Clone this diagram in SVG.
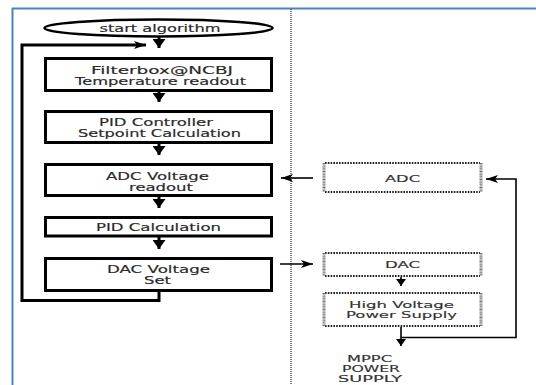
<svg xmlns="http://www.w3.org/2000/svg" width="536" height="385" viewBox="0 0 536 385">
<style>
.frame{stroke:#4f81bd;stroke-width:2;fill:none}
.sep{stroke:#555;stroke-width:1.5;stroke-dasharray:1 1;fill:none}
.box{fill:#fff;stroke:#000;stroke-width:3}
.term{fill:#fff;stroke:#000;stroke-width:2.5}
.flow{stroke:#000;stroke-width:3;fill:none}
.thin{stroke:#000;stroke-width:1.6;fill:none}
.dh{stroke:#222;stroke-width:2;stroke-dasharray:1.6 1.2;fill:none}
.dv{stroke:#777;stroke-width:3;stroke-dasharray:1 0.6;fill:none}
.t{font-family:"DejaVu Sans",Verdana,sans-serif;font-size:10px;fill:#2a2a2a;stroke:#2a2a2a;stroke-width:0.15;text-anchor:middle}
.tr{font-family:"DejaVu Sans",Verdana,sans-serif;font-size:9.5px;fill:#333;stroke:#333;stroke-width:0.15;text-anchor:middle}
</style>
<defs>
<marker id="hb" markerWidth="13" markerHeight="13" refX="9" refY="6.5" orient="auto" markerUnits="userSpaceOnUse">
<path d="M0,0 L9,6.5 L0,13 Z" fill="#000"/>
</marker>
<marker id="hm" markerWidth="10" markerHeight="10" refX="7" refY="5" orient="auto" markerUnits="userSpaceOnUse">
<path d="M0,0 L7,5 L0,10 Z" fill="#000"/>
</marker>
<marker id="hs" markerWidth="14" markerHeight="8" refX="12" refY="4" orient="auto" markerUnits="userSpaceOnUse">
<path d="M0,0 L12,4 L0,8 L3,4 Z" fill="#000"/>
</marker>
</defs>
<g id="frame">
<path class="frame" d="M12.5,385 V8.5 H536"/>
<line class="sep" x1="291" y1="9" x2="291" y2="385"/>
</g>
<g id="connectors">
<line class="flow" x1="159" y1="36" x2="159" y2="48" marker-end="url(#hb)"/>
<line class="flow" x1="159" y1="91" x2="159" y2="102" marker-end="url(#hb)"/>
<line class="flow" x1="159" y1="144" x2="159" y2="155" marker-end="url(#hb)"/>
<line class="flow" x1="159" y1="197" x2="159" y2="208" marker-end="url(#hb)"/>
<line class="flow" x1="159" y1="237" x2="159" y2="249" marker-end="url(#hb)"/>
<path class="flow" d="M159,292 V300.5 H22 V45 H146" marker-end="url(#hs)"/>
<line class="thin" x1="313" y1="178" x2="281" y2="178" marker-end="url(#hs)"/>
<line class="thin" x1="280" y1="264" x2="313" y2="264" marker-end="url(#hs)"/>
<line class="thin" x1="401" y1="277" x2="401" y2="286" marker-end="url(#hm)"/>
<line class="thin" x1="401" y1="327" x2="401" y2="346" marker-end="url(#hm)"/>
<path class="thin" d="M401,337.5 H516 V179 H486" marker-end="url(#hs)"/>
</g>
<g id="start">
<ellipse class="term" cx="158.5" cy="28" rx="114" ry="8.5"/>
<text class="t" x="160" y="32" textLength="121" lengthAdjust="spacingAndGlyphs">start algorithm</text>
</g>
<g id="filterbox">
<rect class="box" x="45.5" y="58.5" width="226" height="32"/>
<text class="t" x="162" y="74" textLength="142" lengthAdjust="spacingAndGlyphs">Filterbox@NCBJ</text>
<text class="t" x="160.5" y="85" textLength="171" lengthAdjust="spacingAndGlyphs">Temperature readout</text>
</g>
<g id="pid-controller">
<rect class="box" x="45.5" y="111.5" width="226" height="31"/>
<text class="t" x="156" y="126" textLength="114" lengthAdjust="spacingAndGlyphs">PID Controller</text>
<text class="t" x="159.5" y="137" textLength="163" lengthAdjust="spacingAndGlyphs">Setpoint Calculation</text>
</g>
<g id="adc-readout">
<rect class="box" x="45.5" y="164.5" width="226" height="31"/>
<text class="t" x="157.5" y="179.5" textLength="103" lengthAdjust="spacingAndGlyphs">ADC Voltage</text>
<text class="t" x="161" y="190.5" textLength="64" lengthAdjust="spacingAndGlyphs">readout</text>
</g>
<g id="pid-calc">
<rect class="box" x="45.5" y="217.5" width="226" height="18.5"/>
<text class="t" x="158.5" y="230.5" textLength="125" lengthAdjust="spacingAndGlyphs">PID Calculation</text>
</g>
<g id="dac-set">
<rect class="box" x="45.5" y="258.5" width="226" height="32"/>
<text class="t" x="158.5" y="272.5" textLength="103" lengthAdjust="spacingAndGlyphs">DAC Voltage</text>
<text class="t" x="157.5" y="283.5" textLength="27" lengthAdjust="spacingAndGlyphs">Set</text>
</g>
<g id="adc">
<rect x="324" y="163" width="157" height="29" fill="#fff"/>
<path class="dh" d="M325,163 H480 M325,192 H480"/>
<path class="dv" d="M324,163 V192 M481,163 V192"/>
<text class="tr" x="402.5" y="182" textLength="35" lengthAdjust="spacingAndGlyphs">ADC</text>
</g>
<g id="dac">
<rect x="324" y="253" width="157" height="23" fill="#fff"/>
<path class="dh" d="M325,253 H480 M325,276 H480"/>
<path class="dv" d="M324,253 V276 M481,253 V276"/>
<text class="tr" x="402.5" y="268" textLength="35" lengthAdjust="spacingAndGlyphs">DAC</text>
</g>
<g id="hv-supply">
<rect x="324" y="293" width="157" height="33" fill="#fff"/>
<path class="dh" d="M325,293 H480 M325,326 H480"/>
<path class="dv" d="M324,293 V326 M481,293 V326"/>
<text class="tr" x="401.5" y="308" textLength="105" lengthAdjust="spacingAndGlyphs">High Voltage</text>
<text class="tr" x="401.5" y="318" textLength="111" lengthAdjust="spacingAndGlyphs">Power Supply</text>
</g>
<g id="mppc">
<text class="tr" x="369.5" y="362" textLength="45" lengthAdjust="spacingAndGlyphs">MPPC</text>
<text class="tr" x="371" y="372" textLength="58" lengthAdjust="spacingAndGlyphs">POWER</text>
<text class="tr" x="370" y="382" textLength="64" lengthAdjust="spacingAndGlyphs">SUPPLY</text>
</g>
</svg>
